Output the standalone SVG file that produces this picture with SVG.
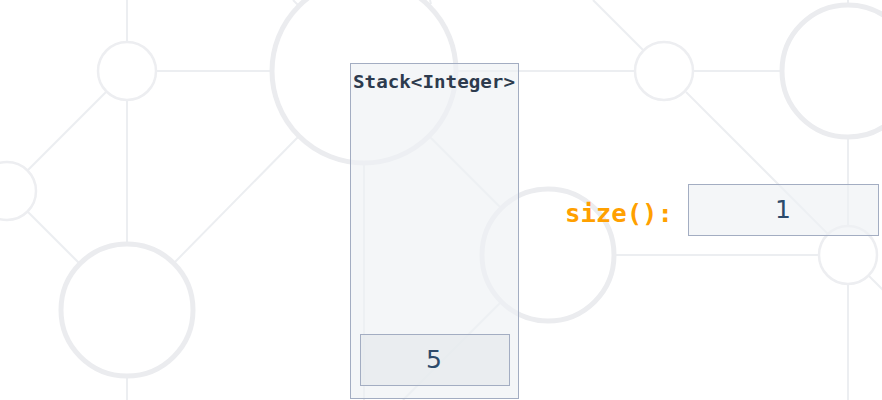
<svg xmlns="http://www.w3.org/2000/svg" width="882" height="400" viewBox="0 0 882 400">
  <style>
    .bgl { stroke: #eceef1; stroke-width: 2; fill: none; }
    .bgs { stroke: #edeef1; stroke-width: 2.5; fill: none; }
    .bgb { stroke: #ebecef; stroke-width: 5; fill: none; }
    .box { fill: #eef1f5; fill-opacity: 0.65; stroke: #a3adc2; stroke-width: 1; }
    .cell { fill: #e6e9ed; fill-opacity: 0.7; stroke: #a3adc2; stroke-width: 1; }
    .mono { font-family: "DejaVu Sans Mono", "Liberation Mono", monospace; font-weight: bold; }
    .sans { font-family: "DejaVu Sans", "Noto Sans", sans-serif; fill: #2c4a6b; text-anchor: middle; }
  </style>
  <rect width="882" height="400" fill="#ffffff"/>
  <g id="background">
    <line class="bgl" x1="127" y1="0" x2="127" y2="42"/>
    <line class="bgl" x1="127" y1="100" x2="127" y2="243"/>
    <line class="bgl" x1="127" y1="377" x2="127" y2="400"/>
    <line class="bgl" x1="156" y1="71" x2="270" y2="71"/>
    <line class="bgl" x1="28" y1="170" x2="106" y2="92"/>
    <line class="bgl" x1="28" y1="212" x2="80" y2="264"/>
    <line class="bgl" x1="174" y1="263" x2="298" y2="137"/>
    <line class="bgl" x1="293" y1="0" x2="298" y2="5"/>
    <line class="bgl" x1="430" y1="0" x2="431" y2="4"/>
    <line class="bgl" x1="364" y1="165" x2="364" y2="400"/>
    <line class="bgl" x1="430" y1="137" x2="500" y2="207"/>
    <line class="bgl" x1="458" y1="71" x2="635" y2="71"/>
    <line class="bgl" x1="593" y1="0" x2="643" y2="50"/>
    <line class="bgl" x1="686" y1="92" x2="828" y2="234"/>
    <line class="bgl" x1="693" y1="71" x2="781" y2="71"/>
    <line class="bgl" x1="848" y1="0" x2="848" y2="4"/>
    <line class="bgl" x1="848" y1="138" x2="848" y2="226"/>
    <line class="bgl" x1="848" y1="284" x2="848" y2="400"/>
    <line class="bgl" x1="616" y1="255" x2="819" y2="255"/>
    <line class="bgl" x1="869" y1="276" x2="900" y2="307"/>
    <line class="bgl" x1="500" y1="303" x2="403" y2="400"/>
    <circle class="bgs" cx="127" cy="71" r="29"/>
    <circle class="bgs" cx="7" cy="191" r="29"/>
    <circle class="bgs" cx="664" cy="71" r="29"/>
    <circle class="bgs" cx="848" cy="255" r="29"/>
    <circle class="bgb" cx="127" cy="310" r="66"/>
    <circle class="bgb" cx="364" cy="71" r="92"/>
    <circle class="bgb" cx="548" cy="255" r="66"/>
    <circle class="bgb" cx="848" cy="71" r="66"/>
  </g>
  <g id="stack">
    <rect class="box" x="350.5" y="63.5" width="168" height="335"/>
    <text class="mono" x="434" y="88" font-size="18" fill="#2d3b4e" text-anchor="middle" textLength="162" lengthAdjust="spacingAndGlyphs">Stack&lt;Integer&gt;</text>
  </g>
  <g id="item-5">
    <rect class="cell" x="360.5" y="334.5" width="149" height="51"/>
    <text class="sans" x="434" y="368" font-size="25">5</text>
  </g>
  <g id="size-label">
    <text class="mono" x="565" y="222" font-size="25.6" fill="#ffa000">size():</text>
  </g>
  <g id="size-value">
    <rect class="box" x="688.5" y="184.5" width="190" height="51"/>
    <text class="sans" x="783" y="218" font-size="25">1</text>
  </g>
</svg>
